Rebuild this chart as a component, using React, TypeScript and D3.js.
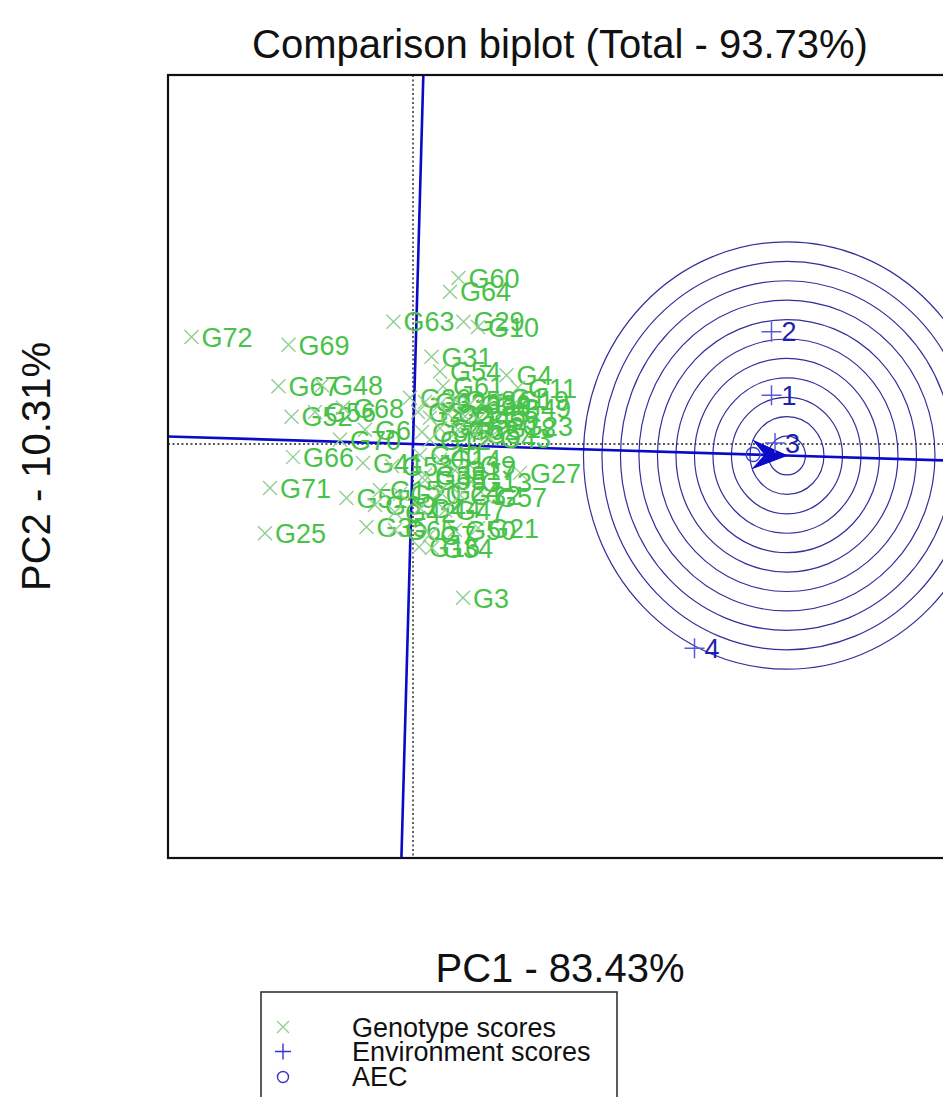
import React from 'react';
import * as d3 from 'd3';

// genotype scores (PC1, PC2)
const genotypeNames = [
  'G72', 'G69', 'G67', 'G48', 'G52', 'G56', 'G68', 'G6', 'G70', 'G66', 'G41', 'G71',
  'G51', 'G25', 'G35', 'G3', 'G27', 'G21', 'G57', 'G13', 'G55', 'G16', 'G34', 'G60',
  'G64', 'G63', 'G29', 'G10', 'G31', 'G54', 'G4', 'G11', 'G61',
  'G1', 'G19', 'G49', 'G36', 'G33', 'G2', 'G26', 'G58', 'G30', 'G8', 'G22', 'G28',
  'G45', 'G23', 'G59', 'G18', 'G37', 'G46', 'G62', 'G5', 'G12', 'G43',
  'G40', 'G9', 'G14', 'G53', 'G17', 'G38', 'G15', 'G20', 'G24', 'G32', 'G39', 'G42',
  'G44', 'G47', 'G50', 'G65', 'G7',
];
const genotypePC1 = [
  -4.43, -2.49, -2.69, -1.82, -2.43, -1.96, -1.40, -0.96, -1.46, -2.40, -1.00, -2.86,
  -1.33, -2.96, -0.93, 1.00, 2.14, 1.30, 1.46, 1.16, 0.24, 0.12, 0.38, 0.91,
  0.74, -0.39, 1.01, 1.30, 0.37, 0.54, 1.87, 2.10, 0.60,
  1.74, 1.90, 1.94, -0.06, 0.24, 0.10, 0.54, 0.84, 1.14, 1.44, 0.34, 0.70,
  1.04, 1.98, 1.30, 1.64, 0.18, 0.54, 0.90, 1.24, 0.34, 1.54,
  0.14, 1.14, 0.54, -0.42, 0.84, 0.24, -0.66, -0.26, 0.54, 0.94, -0.76, -0.36,
  0.14, 0.64, 0.84, -0.36, 0.34,
];
const genotypePC2 = [
  2.04, 1.89, 1.10, 1.12, 0.52, 0.61, 0.69, 0.27, 0.08, -0.25, -0.36, -0.84,
  -1.03, -1.70, -1.58, -2.93, -0.55, -1.60, -1.01, -0.72, -0.69, -1.96, -1.98, 3.16,
  2.90, 2.33, 2.33, 2.23, 1.66, 1.38, 1.31, 1.07, 1.10,
  0.88, 0.84, 0.69, 0.88, 0.80, 0.61, 0.76, 0.84, 0.76, 0.72, 0.50, 0.57,
  0.53, 0.34, 0.46, 0.30, 0.23, 0.30, 0.27, 0.19, 0.08, 0.11,
  -0.21, -0.40, -0.30, -0.42, -0.50, -0.59, -0.88, -0.95, -0.91, -0.97, -1.16, -1.30,
  -1.22, -1.26, -1.64, -1.64, -1.73,
];

// environment scores
const environmentNames = ['1', '2', '3', '4'];
const environmentPC1 = [7.17, 7.17, 7.24, 5.63];
const environmentPC2 = [0.93, 2.14, 0.02, -3.89];

const xDomain = [-4.9, 10.78];
const yDomain = [-7.886, 7.029];
const ringCount = 11;
const ringStep = 0.37;

const titleText = 'Comparison biplot (Total - 93.73%)';
const xLabel = 'PC1 - 83.43%';
const yLabel = 'PC2 - 10.31%';
const legendLabels = ['Genotype scores', 'Environment scores', 'AEC'];

const FONT = "'Liberation Sans', Arial, Helvetica, sans-serif";
const GREEN_TXT = '#48c248';
const GREEN_MK = '#8fce8f';
const BLUE = '#0a0ac8';

function App() {
  React.useEffect(() => {
    document.body.style.margin = '0';
    document.body.style.overflow = 'hidden';
  }, []);

  const W = 943, H = 1097;
  const box = { left: 168, top: 75, right: 952, bottom: 858 };

  const x = d3.scaleLinear().domain(xDomain).range([box.left, box.right]);
  const y = d3.scaleLinear().domain(yDomain).range([box.bottom, box.top]);

  // average environment coordinate (AEC)
  const mx = d3.mean(environmentPC1)!;
  const my = d3.mean(environmentPC2)!;
  const len = Math.hypot(mx, my);
  const ux = mx / len, uy = my / len;
  // ideal point: on AEC at the longest environment vector
  const maxLen = d3.max(environmentPC1.map((v, i) => Math.hypot(v, environmentPC2[i])))!;
  const ix = ux * maxLen, iy = uy * maxLen;

  const far = 40;
  const line = d3.line();

  // arrow head in screen space
  const tipX = x(ix), tipY = y(iy);
  const ox = x(0), oy = y(0);
  const ang = Math.atan2(tipY - oy, tipX - ox);
  const hl = 34, hw = 14, notch = 22;
  const rot = (a: number, b: number): [number, number] => [
    tipX + a * Math.cos(ang) - b * Math.sin(ang),
    tipY + a * Math.sin(ang) + b * Math.cos(ang),
  ];
  const head = [rot(0, 0), rot(-hl, -hw), rot(-notch, 0), rot(-hl, hw)];

  const rings = d3.range(1, ringCount + 1).map((k) => k * ringStep);

  const cross = (cx: number, cy: number, s: number) =>
    `M${cx - s},${cy - s}L${cx + s},${cy + s}M${cx - s},${cy + s}L${cx + s},${cy - s}`;
  const plus = (cx: number, cy: number, s: number) =>
    `M${cx - s},${cy}L${cx + s},${cy}M${cx},${cy - s}L${cx},${cy + s}`;

  return (
    <svg width={W} height={H} style={{ position: 'absolute', left: 0, top: 0, display: 'block', background: '#fff' }}
      fontFamily={FONT}>
      <defs>
        <clipPath id="plotClip">
          <rect x={box.left} y={box.top} width={box.right - box.left} height={box.bottom - box.top} />
        </clipPath>
      </defs>

      <text x={560} y={58} textAnchor="middle" fontSize={40} fill="#111">{titleText}</text>

      <g clipPath="url(#plotClip)">
        {/* dotted axes through origin */}
        <line x1={x(0)} x2={x(0)} y1={box.top} y2={box.bottom} stroke="#222" strokeWidth={1.4} strokeDasharray="2,2.5" />
        <line x1={box.left} x2={box.right} y1={y(0)} y2={y(0)} stroke="#222" strokeWidth={1.4} strokeDasharray="2,2.5" />

        {/* concentric rings around the ideal point */}
        {rings.map((r, i) => (
          <ellipse key={i} cx={x(ix)} cy={y(iy)} rx={x(r) - x(0)} ry={y(0) - y(r)}
            fill="none" stroke="#30309c" strokeWidth={1.2} />
        ))}

        {/* AEC abscissa and ordinate */}
        <path d={line([[x(-far * ux), y(-far * uy)], [x(far * ux), y(far * uy)]])!}
          stroke={BLUE} strokeWidth={2.6} fill="none" />
        <path d={line([[x(-far * uy), y(far * ux)], [x(far * uy), y(-far * ux)]])!}
          stroke={BLUE} strokeWidth={2.6} fill="none" />
        <polygon points={head.map((p) => p.join(',')).join(' ')} fill={BLUE} stroke={BLUE} strokeWidth={1} />

        {/* genotypes */}
        {genotypeNames.map((g, i) => {
          const gx = x(genotypePC1[i]), gy = y(genotypePC2[i]);
          return (
            <g key={g}>
              <path d={cross(gx, gy, 7)} stroke={GREEN_MK} strokeWidth={1.4} />
              <text x={gx + 10} y={gy} dy="0.36em" fontSize={27} fill={GREEN_TXT}>{g}</text>
            </g>
          );
        })}

        {/* environments */}
        {environmentNames.map((e, i) => {
          const ex = x(environmentPC1[i]), ey = y(environmentPC2[i]);
          return (
            <g key={e}>
              <path d={plus(ex, ey, 10)} stroke="#5a5ad8" strokeWidth={1.5} />
              <text x={ex + 10} y={ey} dy="0.36em" fontSize={27} fill="#1e1eb0">{e}</text>
            </g>
          );
        })}

        {/* AEC marker */}
        <circle cx={x(mx)} cy={y(my)} r={7} fill="none" stroke="#3a3ad0" strokeWidth={1.4} />
      </g>

      <rect x={box.left} y={box.top} width={box.right - box.left} height={box.bottom - box.top}
        fill="none" stroke="#111" strokeWidth={2.2} />

      <text x={560} y={982} textAnchor="middle" fontSize={40} fill="#111">{xLabel}</text>
      <text transform={`translate(50,${(box.top + box.bottom) / 2}) rotate(-90)`} textAnchor="middle"
        fontSize={40} fill="#111">{yLabel}</text>

      {/* legend */}
      <rect x={261} y={992} width={356} height={200} fill="none" stroke="#333" strokeWidth={1.6} />
      {legendLabels.map((l, i) => {
        const ly = 1027 + i * 24.5;
        return (
          <g key={l}>
            {i === 0 && <path d={cross(283, ly, 6)} stroke={GREEN_MK} strokeWidth={1.3} />}
            {i === 1 && <path d={plus(283, ly, 8)} stroke="#3535c8" strokeWidth={1.4} />}
            {i === 2 && <circle cx={283} cy={ly + 1} r={5.5} fill="none" stroke="#3535c8" strokeWidth={1.4} />}
            <text x={352} y={ly} dy="0.36em" fontSize={27} fill="#111">{l}</text>
          </g>
        );
      })}
    </svg>
  );
}

export default App;
